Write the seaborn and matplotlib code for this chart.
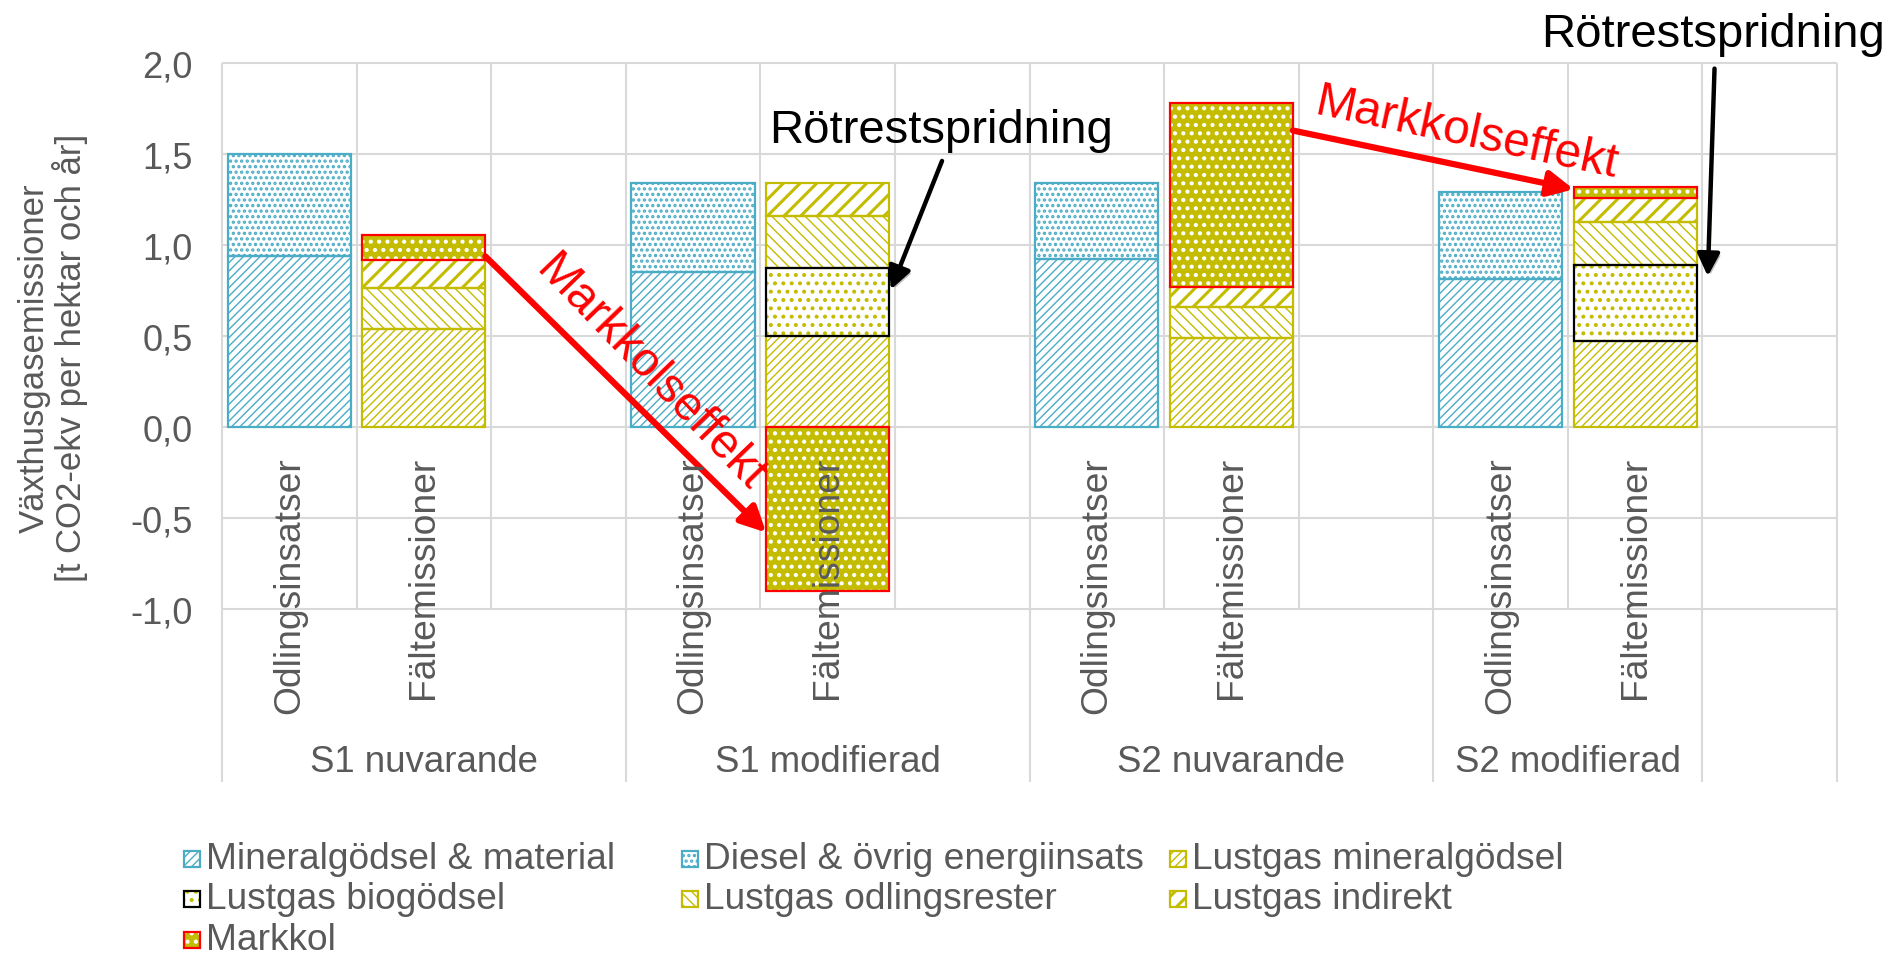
import numpy as np
import matplotlib
matplotlib.use("Agg")
import matplotlib.pyplot as plt
import matplotlib.patheffects as pe
from matplotlib.patches import Rectangle
import seaborn as sns

# --- data -------------------------------------------------------------
groups = ["S1 nuvarande", "S1 modifierad", "S2 nuvarande", "S2 modifierad"]
bar_labels = ["Odlingsinsatser", "Fältemissioner"]

# Odlingsinsatser (t CO2-ekv / ha och år)
mineral = [0.94, 0.85, 0.92, 0.81]
diesel = [0.56, 0.49, 0.42, 0.48]

# Fältemissioner
lustgas_mineral = [0.54, 0.50, 0.49, 0.47]
lustgas_bio = [0.0, 0.37, 0.0, 0.42]
lustgas_rester = [0.22, 0.29, 0.17, 0.235]
lustgas_indirekt = [0.155, 0.18, 0.11, 0.13]
markkol = [0.14, -0.90, 1.01, 0.06]

yticks = [-1.0, -0.5, 0.0, 0.5, 1.0, 1.5, 2.0]

legend_names = ["Mineralgödsel & material", "Diesel & övrig energiinsats",
                "Lustgas mineralgödsel", "Lustgas biogödsel",
                "Lustgas odlingsrester", "Lustgas indirekt", "Markkol"]

# --- style ------------------------------------------------------------
BLUE = "#4BACC6"
OLIVE = "#C4BC00"
GREY = "#595959"
GRID = "#D9D9D9"

# face, hatch colour, hatch, edge, hatch linewidth
styles = {
    "Mineralgödsel & material": ("white", BLUE, "////", BLUE, 1.0),
    "Diesel & övrig energiinsats": ("white", BLUE, "...", BLUE, 1.6),
    "Lustgas mineralgödsel": ("white", OLIVE, "////", OLIVE, 1.0),
    "Lustgas biogödsel": ("white", OLIVE, "..", "black", 1.7),
    "Lustgas odlingsrester": ("white", OLIVE, "\\\\\\", OLIVE, 1.0),
    "Lustgas indirekt": ("white", OLIVE, "//", OLIVE, 2.2),
    "Markkol": (OLIVE, "white", "..", "red", 1.8),
}
edge_z = {BLUE: 2.5, OLIVE: 2.5, "black": 2.6, "red": 2.7}

sns.set_theme(style="white")
plt.rcParams["font.family"] = ["Liberation Sans", "DejaVu Sans"]

W, H = 1882, 954
fig = plt.figure(figsize=(W / 100, H / 100), dpi=100)
ax = fig.add_axes([222 / W, 1 - 783 / H, (1837 - 222) / W, (783 - 63.6) / H])

BAR_W = 0.915
group_start = np.array([0, 3, 6, 9])
x_odl = group_start
x_falt = group_start + 1


def draw_segment(x, bottom, height, name):
    face, hc, hatch, edge, hlw = styles[name]
    x = np.asarray(x, float)
    bottom = np.asarray(bottom, float)
    height = np.asarray(height, float)
    keep = height != 0
    with plt.rc_context({"hatch.linewidth": hlw}):
        ax.bar(x[keep], height[keep], BAR_W, bottom[keep], color=face,
               edgecolor=hc, hatch=hatch, linewidth=0, zorder=2)
    ax.bar(x[keep], height[keep], BAR_W, bottom[keep], facecolor="none",
           edgecolor=edge, linewidth=1.6, zorder=edge_z[edge])


# Odlingsinsatser stack
draw_segment(x_odl, np.zeros(4), mineral, "Mineralgödsel & material")
draw_segment(x_odl, mineral, diesel, "Diesel & övrig energiinsats")

# Fältemissioner stack
falt_parts = [(lustgas_mineral, "Lustgas mineralgödsel"),
              (lustgas_bio, "Lustgas biogödsel"),
              (lustgas_rester, "Lustgas odlingsrester"),
              (lustgas_indirekt, "Lustgas indirekt")]
base = np.zeros(4)
for vals, name in falt_parts:
    draw_segment(x_falt, base, vals, name)
    base = base + np.asarray(vals)
mk = np.asarray(markkol)
draw_segment(x_falt, np.where(mk > 0, base, 0.0), mk, "Markkol")

# --- axes / grid table -----------------------------------------------
y_bottom = -1.95
ax.set_xlim(-0.5, 11.5)
ax.set_ylim(y_bottom, 2.0)
for s in ax.spines.values():
    s.set_visible(False)
ax.set_xticks([])
ax.set_yticks(yticks)
ax.set_yticklabels([f"{v:.1f}".replace(".", ",") for v in yticks])
ax.tick_params(axis="y", length=0, pad=21, labelsize=26, labelcolor=GREY)

ax.hlines(yticks, -0.5, 11.5, color=GRID, lw=1.5, zorder=0, clip_on=False)
inner = [0.5, 1.5, 3.5, 4.5, 6.5, 7.5, 9.5]
bounds = [-0.5, 2.5, 5.5, 8.5, 10.5, 11.5]
ax.vlines(inner, -1.0, 2.0, color=GRID, lw=1.5, zorder=0, clip_on=False)
ax.vlines(bounds, y_bottom, 2.0, color=GRID, lw=1.5, zorder=0, clip_on=False)

for xo, xf in zip(x_odl, x_falt):
    ax.text(xo, -0.16, bar_labels[0], rotation=90, ha="center", va="top",
            fontsize=26.8, color=GREY, zorder=4)
    ax.text(xf, -0.16, bar_labels[1], rotation=90, ha="center", va="top",
            fontsize=26.8, color=GREY, zorder=4)
group_centers = [1.0, 4.0, 7.0, 9.5]
for gx, g in zip(group_centers, groups):
    ax.text(gx, -1.835, g, ha="center", va="center", fontsize=26.4, color=GREY)

fig.text(53 / W, 1 - 358 / H,
         "Växthusgasemissioner\n[t CO2-ekv per hektar och år]",
         rotation=90, ha="center", va="center", fontsize=25, color=GREY,
         linespacing=1.05)

# --- annotations ------------------------------------------------------
shadow = [pe.SimplePatchShadow(offset=(2, -2), alpha=0.25), pe.Normal()]


def arrow(start, tip, color, lw, ms):
    a = ax.annotate("", xy=tip, xytext=start, annotation_clip=False,
                    arrowprops=dict(arrowstyle="-|>", color=color, lw=lw,
                                    mutation_scale=ms, shrinkA=0, shrinkB=0))
    a.arrow_patch.set_path_effects(shadow)


arrow((1.457, 0.936), (3.543, -0.58), "red", 4.5, 38)
arrow((7.457, 1.627), (9.543, 1.305), "red", 4.5, 38)
arrow((4.85, 1.46), (4.47, 0.754), "black", 3.2, 34)
arrow((10.59, 1.967), (10.54, 0.827), "black", 3.2, 34)

ax.text(2.68, 0.30, "Markkolseffekt", rotation=-46, rotation_mode="anchor",
        ha="center", va="center", fontsize=34.5, color="red", zorder=5)
ax.text(8.75, 1.615, "Markkolseffekt", rotation=-12, rotation_mode="anchor",
        ha="center", va="center", fontsize=34.5, color="red", zorder=5)
ax.text(4.84, 1.565, "Rötrestspridning", ha="center", va="baseline",
        fontsize=34, color="black", zorder=5)
# this one runs off the right edge in the original too
ax.text(9.30, 2.09, "Rötrestspridning", ha="left", va="baseline",
        fontsize=34, color="black", clip_on=False, zorder=5)

# --- legend (three equal-width columns, as in the original) ----------
col_x = [184, 682, 1170]
row_y = [860, 900, 941]
for i, name in enumerate(legend_names):
    cx = col_x[i % 3]
    ry = row_y[i // 3]
    face, hc, hatch, edge, hlw = styles[name]
    rect_kw = dict(transform=fig.transFigure)
    with plt.rc_context({"hatch.linewidth": hlw}):
        fig.add_artist(Rectangle((cx / W, 1 - (ry + 8) / H), 16 / W, 16 / H,
                                 facecolor=face, edgecolor=hc, hatch=hatch,
                                 linewidth=0, **rect_kw))
    fig.add_artist(Rectangle((cx / W, 1 - (ry + 8) / H), 16 / W, 16 / H,
                             facecolor="none", edgecolor=edge, linewidth=1.6,
                             **rect_kw))
    fig.text((cx + 22) / W, 1 - ry / H, name, va="center", ha="left",
             fontsize=26.7, color=GREY)

fig.savefig("out.png", dpi=100)
